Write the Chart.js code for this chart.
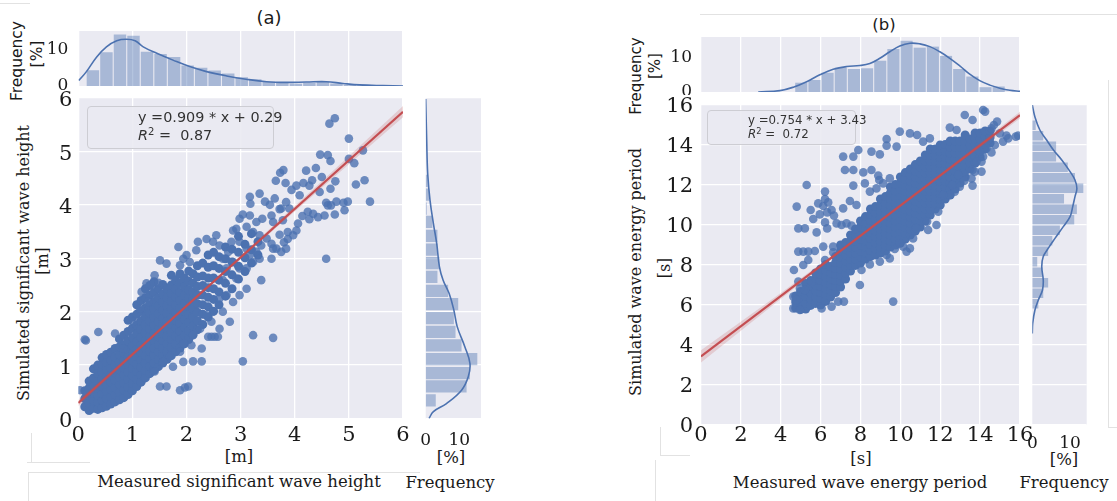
<!DOCTYPE html>
<html>
<head>
<meta charset="utf-8">
<script src="https://cdn.jsdelivr.net/npm/chart.js@4.4.1/dist/chart.umd.min.js"></script>
<style>
  body { margin: 0; width: 1117px; height: 501px; position: relative; overflow: hidden; background: #fff; }
  canvas { position: absolute; }
  .lbl { position: absolute; white-space: nowrap; line-height: 1; color: #1a1a1a; transform: translate(-50%, -50%); }
  .vert { transform: translate(-50%, -50%) rotate(-90deg); }
  .serif { font-family: 'DejaVu Serif', serif; }
  .sans { font-family: 'DejaVu Sans', sans-serif; }
  .fitbox { position: absolute; box-sizing: border-box; border: 1px solid #cdcdd3; border-radius: 4px; white-space: nowrap;
            background: rgba(234, 234, 242, 0.9); font-family: 'DejaVu Sans', sans-serif; color: #333; }
  .fitbox i { font-style: italic; }
  .fitbox sup { font-size: 0.7em; vertical-align: 0.45em; line-height: 0; }
  .rule { position: absolute; background: #e2e2e2; }
</style>
</head>
<body>

<div class="lbl sans" style="left:269px; top:18px; font-size:18px;">(a)</div>
<div class="lbl sans" style="left:884px; top:25px; font-size:16.5px;">(b)</div>

<div class="lbl sans vert" style="left:18px; top:61px; font-size:15.5px;">Frequency</div>
<div class="lbl sans vert" style="left:38px; top:54px; font-size:15.5px;">[%]</div>
<div class="lbl sans vert" style="left:636px; top:76px; font-size:15px;">Frequency</div>
<div class="lbl sans vert" style="left:655px; top:66px; font-size:15px;">[%]</div>

<div class="lbl serif vert" style="left:24px; top:263px; font-size:16px;">Simulated significant wave height</div>
<div class="lbl serif vert" style="left:43px; top:261px; font-size:16px;">[m]</div>
<div class="lbl serif" style="left:239px; top:457px; font-size:16.5px;">[m]</div>
<div class="lbl serif" style="left:239px; top:482px; font-size:16.5px;">Measured significant wave height</div>
<div class="lbl serif" style="left:451px; top:458px; font-size:16.5px;">[%]</div>
<div class="lbl serif" style="left:450px; top:483px; font-size:16.5px;">Frequency</div>

<div class="lbl serif vert" style="left:636px; top:272px; font-size:16px;">Simulated wave energy period</div>
<div class="lbl serif vert" style="left:665px; top:268px; font-size:16px;">[s]</div>
<div class="lbl serif" style="left:861px; top:459px; font-size:16.5px;">[s]</div>
<div class="lbl serif" style="left:860px; top:483px; font-size:16.5px;">Measured wave energy period</div>
<div class="lbl serif" style="left:1064px; top:460px; font-size:16.5px;">[%]</div>
<div class="lbl serif" style="left:1064px; top:483px; font-size:16.5px;">Frequency</div>

<div class="rule" style="left:0; top:3px; width:30px; height:1px;"></div>
<div class="rule" style="left:700px; top:14px; width:417px; height:1px;"></div>
<div class="rule" style="left:31px; top:433px; width:1px; height:29px;"></div>
<div class="rule" style="left:27px; top:462px; width:63px; height:1px;"></div>
<div class="rule" style="left:28px; top:472px; width:392px; height:1px;"></div>
<div class="rule" style="left:28px; top:472px; width:1px; height:29px;"></div>
<div class="rule" style="left:660px; top:427px; width:1px; height:28px;"></div>
<div class="rule" style="left:660px; top:455px; width:30px; height:1px;"></div>
<div class="rule" style="left:655px; top:460px; width:1px; height:41px;"></div>
<div class="rule" style="left:1108px; top:80px; width:1px; height:347px;"></div>
<div class="rule" style="left:1108px; top:427px; width:9px; height:1px;"></div>

<script>
// ---------- panel (a): significant wave height ----------
const hsTicks = [0, 1, 2, 3, 4, 5, 6];
const freqTicks = [0, 10];

// dense core of the cloud, read column by column: [measured, [simulated...]]
const hsCore = [
  [0.12, [0.22, 0.37, 0.52]],
  [0.2, [0.15, 0.29, 0.43, 0.57, 0.7]],
  [0.28, [0.19, 0.33, 0.48, 0.61, 0.76, 0.93]],
  [0.36, [0.17, 0.31, 0.44, 0.57, 0.71, 0.85, 1.0]],
  [0.44, [0.2, 0.34, 0.47, 0.6, 0.74, 0.87, 1.02, 1.14]],
  [0.52, [0.23, 0.37, 0.51, 0.64, 0.78, 0.91, 1.05, 1.2]],
  [0.6, [0.27, 0.41, 0.54, 0.68, 0.81, 0.95, 1.09, 1.24]],
  [0.68, [0.31, 0.45, 0.58, 0.72, 0.86, 1.0, 1.15, 1.31]],
  [0.76, [0.35, 0.49, 0.63, 0.77, 0.91, 1.05, 1.19, 1.34, 1.49]],
  [0.84, [0.39, 0.53, 0.67, 0.81, 0.95, 1.09, 1.23, 1.38, 1.56]],
  [0.92, [0.45, 0.59, 0.73, 0.87, 1.01, 1.15, 1.29, 1.45, 1.63, 1.84]],
  [1.0, [0.52, 0.66, 0.8, 0.94, 1.08, 1.22, 1.36, 1.51, 1.69, 1.9]],
  [1.08, [0.6, 0.74, 0.88, 1.02, 1.16, 1.3, 1.44, 1.59, 1.75, 1.95, 2.13]],
  [1.16, [0.68, 0.82, 0.96, 1.1, 1.24, 1.38, 1.52, 1.67, 1.83, 2.01, 2.21]],
  [1.24, [0.76, 0.9, 1.04, 1.18, 1.32, 1.46, 1.6, 1.75, 1.91, 2.07, 2.26, 2.43]],
  [1.32, [0.84, 0.98, 1.12, 1.26, 1.4, 1.54, 1.68, 1.83, 1.98, 2.13, 2.31, 2.49]],
  [1.4, [0.9, 1.04, 1.18, 1.32, 1.46, 1.6, 1.74, 1.89, 2.04, 2.19, 2.36, 2.56]],
  [1.48, [0.97, 1.11, 1.25, 1.39, 1.53, 1.67, 1.81, 1.96, 2.11, 2.26, 2.43]],
  [1.56, [1.04, 1.18, 1.32, 1.46, 1.6, 1.74, 1.88, 2.03, 2.18, 2.33, 2.51]],
  [1.64, [1.11, 1.25, 1.4, 1.54, 1.68, 1.82, 1.97, 2.11, 2.26, 2.43]],
  [1.72, [1.18, 1.33, 1.48, 1.62, 1.76, 1.9, 2.05, 2.19, 2.34, 2.5, 2.68]],
  [1.8, [1.25, 1.4, 1.55, 1.7, 1.84, 1.98, 2.13, 2.28, 2.43, 2.59]],
  [1.88, [1.32, 1.48, 1.63, 1.78, 1.92, 2.07, 2.21, 2.36, 2.53, 2.71]],
  [1.96, [1.4, 1.56, 1.71, 1.86, 2.01, 2.16, 2.31, 2.47, 2.63]],
  [2.04, [1.48, 1.64, 1.8, 1.95, 2.1, 2.26, 2.41, 2.57, 2.76]],
  [2.12, [1.57, 1.73, 1.89, 2.05, 2.21, 2.37, 2.53, 2.71]],
  [2.2, [1.66, 1.83, 1.99, 2.15, 2.31, 2.47, 2.65, 2.86]],
  [2.3, [1.76, 1.95, 2.13, 2.31, 2.49, 2.67, 2.91]],
  [2.4, [1.9, 2.09, 2.27, 2.45, 2.63, 2.83, 3.06]],
  [2.5, [2.01, 2.23, 2.43, 2.63, 2.86, 3.11]],
  [2.6, [2.13, 2.37, 2.59, 2.81, 3.03]],
  [2.72, [2.29, 2.53, 2.75, 2.99, 3.21]],
  [2.84, [2.43, 2.69, 2.93, 3.17]],
  [2.96, [2.61, 2.85, 3.11, 3.41]],
  [3.08, [2.75, 3.01, 3.26]],
  [3.2, [2.91, 3.16, 3.46]],
  [3.32, [3.06, 3.31]]
];

// scattered points around the core: [measured, simulated]
const hsScatter = [
  [4.74, 5.62], [4.64, 5.52], [5.0, 5.24], [4.47, 4.94], [4.61, 4.93], [4.66, 4.82], [5.0, 4.86], [5.1, 4.78],
  [5.26, 5.02], [5.29, 4.46], [5.13, 4.38], [5.39, 4.06], [4.75, 4.44], [4.66, 4.3], [4.39, 4.69], [4.21, 4.64],
  [4.5, 4.52], [4.32, 4.46], [4.16, 4.41], [4.03, 4.36], [3.73, 4.6], [3.79, 4.65], [3.65, 4.45], [3.83, 4.41],
  [3.94, 4.28], [4.09, 4.18], [4.27, 4.36], [4.46, 4.24], [4.58, 4.04], [4.67, 3.99], [4.77, 4.06], [4.9, 4.04],
  [4.98, 4.06], [4.92, 3.9], [4.74, 3.82], [4.61, 3.99], [4.55, 3.8], [4.43, 3.77], [4.34, 3.83], [4.24, 3.87],
  [4.14, 3.79], [4.27, 3.73], [4.06, 3.65], [4.03, 3.52], [3.87, 3.49], [3.97, 3.43], [3.87, 3.36], [3.8, 3.3],
  [3.72, 3.44], [4.58, 2.99], [3.75, 3.93], [3.9, 3.93], [3.78, 3.71], [3.6, 3.68], [3.57, 3.8], [3.4, 3.74],
  [3.29, 3.68], [3.17, 3.8], [3.04, 3.82], [2.98, 3.74], [3.11, 3.59], [3.17, 4.15], [3.18, 4.02], [3.35, 4.21],
  [3.45, 4.06], [3.54, 4.0], [3.63, 4.12], [3.72, 3.92], [3.84, 4.05], [2.92, 3.55], [2.86, 3.52], [3.23, 3.49],
  [3.35, 3.43], [3.48, 3.37], [3.57, 3.27], [3.66, 3.18], [3.38, 3.24], [3.29, 3.12], [3.17, 3.06], [3.23, 2.93],
  [3.38, 2.59], [3.6, 3.18], [3.75, 3.12], [3.84, 3.18], [3.57, 2.99], [3.35, 2.99], [3.11, 3.18], [2.98, 3.31],
  [2.83, 3.31], [2.77, 3.12], [2.67, 2.99], [2.61, 3.24], [2.55, 3.43], [2.49, 3.31], [2.37, 3.36], [2.21, 3.31],
  [2.18, 3.15], [2.0, 3.06], [1.94, 2.99], [1.85, 3.21], [1.63, 2.9], [1.51, 2.96], [1.88, 2.87], [2.06, 2.93],
  [1.41, 2.68], [1.26, 2.53], [1.35, 2.5], [1.48, 2.54], [1.17, 2.37], [1.29, 2.18], [3.23, 1.56], [3.6, 1.51],
  [3.04, 1.07], [2.4, 1.53], [2.46, 1.53], [2.52, 1.53], [2.58, 1.53], [2.09, 1.37], [1.94, 1.41], [1.88, 1.25],
  [2.12, 1.07], [2.28, 1.07], [1.94, 1.06], [1.69, 1.16], [1.57, 1.06], [1.75, 0.97], [1.41, 0.88], [1.51, 0.6],
  [1.63, 0.6], [1.88, 0.53], [1.97, 0.58], [2.03, 0.6], [0.12, 1.48], [0.14, 1.46], [0.37, 1.62], [0.68, 1.59],
  [2.67, 2.59], [2.74, 2.31], [2.86, 2.18], [2.98, 2.31], [3.11, 2.43], [2.92, 2.62], [2.61, 2.25], [2.49, 2.0],
  [2.37, 1.93], [2.67, 2.0], [2.8, 1.81], [2.61, 1.68], [2.46, 1.81], [2.25, 1.68], [2.12, 1.56], [2.28, 1.31],
  [0.83, 1.31], [1.02, 1.81], [1.14, 2.06], [3.11, 2.81], [2.98, 2.81], [2.86, 2.93], [2.74, 2.81],
  [0.03, 0.53], [0.15, 0.47]
];

// fit y = 0.909 x + 0.29 and its confidence band
const hsFitX = [0, 6];
const hsFitY = [0.29, 5.74];
const hsBandX = [0, 1.5, 3, 4.5, 6];
const hsBandLo = [0.23, 1.63, 2.99, 4.32, 5.64];
const hsBandHi = [0.35, 1.67, 3.05, 4.44, 5.85];

// marginal histogram of measured Hs (top) and its KDE
const hsTopCenters = [0.27, 0.52, 0.77, 1.02, 1.27, 1.52, 1.77, 2.02, 2.27, 2.52, 2.77, 3.02, 3.27, 3.52, 3.77, 4.02, 4.27, 4.52, 4.77, 5.02, 5.27];
const hsTopFreq = [4.4, 9.4, 14.3, 14.0, 9.5, 8.9, 8.1, 5.7, 5.1, 4.3, 3.5, 2.4, 1.9, 1.2, 0.9, 0.6, 0.9, 1.2, 0.7, 0.3, 0.2];
const hsTopKdeX = [0.01, 0.15, 0.34, 0.52, 0.71, 0.89, 1.05, 1.2, 1.45, 1.75, 2.06, 2.37, 2.74, 3.1, 3.48, 3.84, 4.21, 4.58, 4.89, 5.2, 5.63, 6.0];
const hsTopKdeY = [1.5, 4.0, 8.1, 10.9, 12.6, 13.0, 12.6, 10.9, 9.1, 7.2, 5.4, 4.0, 2.8, 1.9, 1.2, 1.0, 1.1, 1.2, 0.7, 0.3, 0.1, 0];

// marginal histogram of simulated Hs (right) and its KDE
const hsRightCenters = [0.34, 0.6, 0.85, 1.11, 1.37, 1.62, 1.88, 2.14, 2.39, 2.65, 2.91, 3.16, 3.42, 3.68, 3.93, 4.19, 4.45];
const hsRightFreq = [3.0, 12.2, 13.2, 15.4, 10.7, 8.9, 8.4, 9.7, 6.7, 3.5, 4.1, 3.5, 3.5, 2.0, 0.3, 1.0, 0.6];
const hsRightKdeY = [5.98, 5.2, 4.58, 4.08, 3.65, 3.27, 2.84, 2.59, 2.34, 2.03, 1.72, 1.34, 1.03, 0.78, 0.53, 0.28, 0.13, 0.0];
const hsRightKdeF = [0, 0.3, 0.6, 1.3, 2.3, 3.3, 4.1, 5.2, 7.0, 8.4, 9.4, 11.7, 13.2, 12.7, 10.7, 6.2, 2.3, 1.0];

// ---------- panel (b): wave energy period ----------
const teTicks = [0, 2, 4, 6, 8, 10, 12, 14, 16];

const teCore = [
  [4.75, [5.85, 6.15, 6.45]],
  [5.0, [5.78, 6.06, 6.36, 6.68]],
  [5.25, [5.8, 6.1, 6.42, 6.76, 7.08]],
  [5.5, [5.98, 6.3, 6.6, 6.92, 7.22]],
  [5.75, [6.08, 6.4, 6.7, 7.0, 7.32, 7.6]],
  [6.0, [6.0, 6.32, 6.62, 6.92, 7.22, 7.52, 7.8]],
  [6.25, [6.18, 6.5, 6.8, 7.1, 7.4, 7.7, 8.02]],
  [6.5, [6.4, 6.7, 7.0, 7.3, 7.6, 7.92]],
  [6.75, [6.62, 6.92, 7.22, 7.52, 7.82, 8.12, 8.42]],
  [7.0, [6.9, 7.2, 7.5, 7.8, 8.1, 8.4, 8.7, 9.0]],
  [7.25, [7.3, 7.6, 7.9, 8.2, 8.5, 8.8, 9.12]],
  [7.5, [7.7, 8.0, 8.3, 8.6, 8.9, 9.2, 9.5]],
  [7.75, [7.98, 8.28, 8.58, 8.88, 9.18, 9.48, 9.8]],
  [8.0, [8.1, 8.4, 8.7, 9.0, 9.3, 9.6, 9.9, 10.2]],
  [8.25, [8.3, 8.6, 8.9, 9.2, 9.5, 9.8, 10.1, 10.42]],
  [8.5, [8.42, 8.72, 9.02, 9.32, 9.62, 9.92, 10.22, 10.52, 10.8]],
  [8.75, [8.5, 8.8, 9.1, 9.4, 9.7, 10.0, 10.3, 10.6, 10.92]],
  [9.0, [8.6, 8.9, 9.2, 9.5, 9.8, 10.1, 10.4, 10.7, 11.0, 11.3]],
  [9.25, [8.7, 9.0, 9.3, 9.6, 9.9, 10.2, 10.5, 10.8, 11.1, 11.42]],
  [9.5, [8.9, 9.2, 9.5, 9.8, 10.1, 10.4, 10.7, 11.0, 11.3, 11.6, 11.9]],
  [9.75, [9.0, 9.3, 9.6, 9.9, 10.2, 10.5, 10.8, 11.1, 11.4, 11.7, 12.02]],
  [10.0, [9.1, 9.4, 9.7, 10.0, 10.3, 10.6, 10.9, 11.2, 11.5, 11.8, 12.1, 12.4]],
  [10.25, [9.3, 9.6, 9.9, 10.2, 10.5, 10.8, 11.1, 11.4, 11.7, 12.0, 12.3, 12.62]],
  [10.5, [9.5, 9.8, 10.1, 10.4, 10.7, 11.0, 11.3, 11.6, 11.9, 12.2, 12.5, 12.8]],
  [10.75, [9.7, 10.0, 10.3, 10.6, 10.9, 11.2, 11.5, 11.8, 12.1, 12.4, 12.7, 13.02]],
  [11.0, [9.9, 10.2, 10.5, 10.8, 11.1, 11.4, 11.7, 12.0, 12.3, 12.6, 12.9, 13.2]],
  [11.25, [10.2, 10.5, 10.8, 11.1, 11.4, 11.7, 12.0, 12.3, 12.6, 12.9, 13.2, 13.5]],
  [11.5, [10.5, 10.8, 11.1, 11.4, 11.7, 12.0, 12.3, 12.6, 12.9, 13.2, 13.5, 13.8]],
  [11.75, [10.8, 11.1, 11.4, 11.7, 12.0, 12.3, 12.6, 12.9, 13.2, 13.5, 13.8]],
  [12.0, [11.0, 11.3, 11.6, 11.9, 12.2, 12.5, 12.8, 13.1, 13.4, 13.7, 14.0]],
  [12.25, [11.3, 11.6, 11.9, 12.2, 12.5, 12.8, 13.1, 13.4, 13.7, 14.02]],
  [12.5, [11.5, 11.8, 12.1, 12.4, 12.7, 13.0, 13.3, 13.6, 13.9, 14.2]],
  [12.75, [11.8, 12.1, 12.4, 12.7, 13.0, 13.3, 13.6, 13.9, 14.2]],
  [13.0, [12.1, 12.4, 12.7, 13.0, 13.3, 13.6, 13.9, 14.2]],
  [13.25, [12.4, 12.7, 13.0, 13.3, 13.6, 13.9, 14.2, 14.5]],
  [13.5, [12.8, 13.1, 13.4, 13.7, 14.0, 14.3]],
  [13.75, [13.1, 13.4, 13.7, 14.0, 14.3, 14.6]],
  [14.0, [13.4, 13.7, 14.0, 14.3, 14.6]],
  [14.25, [13.8, 14.1, 14.4, 14.7]],
  [14.5, [14.1, 14.4, 14.7]]
];

const teScatter = [
  [4.8, 10.92], [5.3, 12.0], [5.5, 10.75], [5.88, 11.08], [6.13, 10.95], [6.38, 11.13], [6.22, 11.3], [6.55, 10.75],
  [5.96, 10.53], [6.33, 10.63], [6.67, 10.47], [6.22, 11.67], [5.63, 10.3], [6.22, 10.13], [5.8, 9.63], [6.33, 9.83],
  [4.88, 9.83], [5.21, 9.83], [6.8, 10.08], [7.05, 10.0], [7.3, 10.08], [7.55, 9.97], [7.13, 10.83], [7.47, 11.2],
  [7.8, 11.0], [7.64, 11.97], [8.22, 12.08], [7.22, 12.75], [7.64, 12.75], [8.14, 12.63], [8.55, 12.75], [8.89, 12.47],
  [8.94, 12.25], [7.13, 13.42], [7.64, 13.42], [7.89, 13.75], [8.55, 13.67], [8.97, 13.53], [9.31, 14.3], [9.31, 13.97],
  [9.81, 13.92], [9.97, 14.67], [10.48, 14.58], [10.84, 14.5], [11.14, 14.17], [11.48, 14.33], [12.48, 14.87], [12.82, 14.75],
  [13.23, 15.5], [13.62, 15.25], [14.15, 15.75], [14.25, 15.67], [14.69, 15.0], [14.85, 15.17], [14.57, 14.83], [15.32, 14.47],
  [15.79, 14.42], [15.91, 14.47], [15.15, 14.17], [14.57, 13.63], [14.15, 13.42], [14.07, 13.17], [13.62, 12.75], [13.57, 12.33],
  [13.62, 11.97], [12.98, 11.92], [12.73, 11.67], [12.48, 11.5], [12.15, 11.5], [11.9, 10.67], [11.81, 10.0], [11.39, 9.75],
  [11.34, 10.17], [10.81, 9.83], [10.64, 9.33], [10.48, 8.83], [10.14, 8.92], [9.72, 8.8], [10.31, 8.67], [9.97, 9.08],
  [9.64, 6.17], [8.47, 8.03], [8.05, 7.75], [7.97, 7.0], [6.88, 6.17], [7.17, 6.17], [6.55, 5.92], [9.31, 8.5],
  [8.97, 8.17], [9.47, 8.33], [4.66, 7.75], [5.13, 8.0], [5.38, 8.25], [4.88, 8.67], [5.13, 8.67], [5.38, 8.67],
  [5.71, 8.7], [6.22, 8.25], [6.63, 8.92], [6.63, 8.63], [6.13, 8.92], [4.63, 6.42], [4.8, 6.25], [4.63, 5.83],
  [4.96, 5.75], [4.96, 6.83], [4.88, 7.17], [5.21, 6.75], [5.55, 7.17], [6.05, 5.83], [14.49, 14.33], [14.74, 14.0],
  [14.99, 14.58], [15.41, 14.33], [14.32, 13.83], [13.98, 13.67], [13.82, 13.17], [14.07, 12.67], [13.73, 12.67], [12.9, 12.5],
  [13.2, 12.2], [12.6, 12.0], [8.47, 11.67], [8.8, 11.83], [9.14, 12.08], [9.47, 12.33]
];

// fit y = 0.754 x + 3.43 and its confidence band
const teFitX = [0, 16];
const teFitY = [3.43, 15.49];
const teBandX = [0, 4, 8, 12, 16];
const teBandLo = [3.12, 6.3, 9.41, 12.4, 15.33];
const teBandHi = [3.74, 6.6, 9.52, 12.56, 15.66];

const teTopCenters = [5.03, 5.69, 6.35, 7.01, 7.67, 8.33, 8.99, 9.65, 10.31, 10.97, 11.63, 12.29, 12.95, 13.61, 14.27, 14.93];
const teTopFreq = [2.7, 3.5, 5.6, 7.1, 6.7, 6.9, 9.1, 12.5, 14.9, 12.9, 13.2, 10.5, 6.7, 4.5, 1.4, 1.6];
const teTopKdeX = [2.87, 3.96, 4.63, 5.3, 5.96, 6.63, 7.3, 7.97, 8.47, 8.97, 9.47, 9.97, 10.48, 10.98, 11.48, 11.98, 12.48, 12.98, 13.48, 13.98, 14.49, 14.99, 15.49, 16.0];
const teTopKdeY = [0, 0.4, 1.4, 3.0, 5.0, 6.6, 7.4, 7.7, 8.3, 9.8, 11.7, 13.4, 14.2, 14.0, 13.2, 11.7, 9.8, 7.6, 5.2, 3.3, 2.0, 1.1, 0.5, 0.2];

const teRightCenters = [6.06, 6.59, 7.11, 7.64, 8.16, 8.69, 9.21, 9.74, 10.26, 10.79, 11.31, 11.84, 12.36, 12.89, 13.41, 13.94, 14.46, 14.99];
const teRightFreq = [1.6, 2.9, 4.2, 2.7, 1.3, 4.2, 5.3, 7.3, 11.1, 11.8, 8.4, 13.5, 11.3, 9.4, 6.3, 6.3, 2.9, 0.9];
const teRightKdeY = [16.0, 15.4, 14.75, 14.25, 13.75, 13.25, 12.67, 12.25, 11.83, 11.42, 10.92, 10.42, 9.92, 9.33, 8.83, 8.42, 7.92, 7.25, 6.75, 6.25, 5.75, 5.08, 4.58];
const teRightKdeF = [0, 0.7, 2.0, 3.8, 5.6, 7.8, 10.0, 11.3, 11.8, 11.3, 10.7, 10.0, 8.2, 6.0, 4.2, 2.9, 2.5, 2.9, 2.7, 1.6, 0.7, 0.1, 0];

// ---------- styling ----------
const BLUE = '#4c72b0';
const DOT = 'rgba(76, 114, 176, 0.8)';
const BAR = 'rgba(76, 114, 176, 0.42)';
const RED = '#c44e52';
const BAND = 'rgba(196, 78, 82, 0.2)';
const GRID = { color: '#ffffff', lineWidth: 1.3, drawTicks: false, offset: false };
const NOBORDER = { display: false };

Chart.defaults.animation = false;
Chart.defaults.responsive = false;
Chart.defaults.devicePixelRatio = 1;
Chart.defaults.font.family = "'DejaVu Serif', serif";
Chart.defaults.color = '#1a1a1a';
Chart.defaults.plugins.legend.display = false;
Chart.defaults.plugins.tooltip.enabled = false;

// seaborn-style grey plot background
const areaBg = {
  id: 'areaBg',
  beforeDraw(chart) {
    const { ctx, chartArea: a } = chart;
    ctx.save();
    ctx.fillStyle = '#eaeaf2';
    ctx.fillRect(a.left, a.top, a.right - a.left, a.bottom - a.top);
    ctx.restore();
  }
};

function makeCanvas(left, top, w, h) {
  const c = document.createElement('canvas');
  c.width = w;
  c.height = h;
  c.style.left = left + 'px';
  c.style.top = top + 'px';
  document.body.appendChild(c);
  return c.getContext('2d');
}

// pin an axis to a fixed thickness so the plot areas line up across canvases
function fixSize(size) {
  return function (scale) {
    if (scale.isHorizontal()) scale.height = size;
    else scale.width = size;
    scale.paddingTop = scale.paddingBottom = scale.paddingLeft = scale.paddingRight = 0;
  };
}

function useTicks(values) {
  return function (scale) {
    scale.ticks = values.map(v => ({ value: v }));
  };
}

const toXY = (xs, ys) => xs.map((x, i) => ({ x: x, y: ys[i] }));
const fromCore = cols => cols.flatMap(([x, ys]) => ys.map(y => ({ x: x, y: y })));
const fromPairs = ps => ps.map(([x, y]) => ({ x: x, y: y }));

function scatterPanel(o) {
  return new Chart(makeCanvas(o.left, o.top, o.w, o.h), {
    type: 'scatter',
    data: {
      datasets: [
        { type: 'line', data: toXY(o.fitX, o.fitY), borderColor: RED, borderWidth: 2.2, pointRadius: 0, order: 0 },
        { type: 'line', data: toXY(o.bandX, o.bandLo), borderWidth: 0, pointRadius: 0, order: 1 },
        { type: 'line', data: toXY(o.bandX, o.bandHi), borderWidth: 0, pointRadius: 0, fill: 1, backgroundColor: BAND, order: 1 },
        { type: 'scatter', data: o.scatter, backgroundColor: DOT, borderWidth: 0, pointRadius: 4.3, order: 2 },
        { type: 'scatter', data: o.core, backgroundColor: BLUE, borderWidth: 0, pointRadius: 4.5, order: 3 }
      ]
    },
    options: {
      layout: { padding: o.pad },
      scales: {
        x: {
          type: 'linear', min: 0, max: o.max, afterFit: fixSize(o.xH), afterBuildTicks: useTicks(o.ticks),
          ticks: { font: { size: 21 }, padding: o.xPad, maxRotation: 0, autoSkip: false },
          grid: GRID, border: NOBORDER
        },
        y: {
          type: 'linear', min: 0, max: o.max, afterFit: fixSize(o.yW), afterBuildTicks: useTicks(o.ticks),
          ticks: { font: { size: 21 }, padding: o.yPad, labelOffset: o.lblOff, autoSkip: false },
          grid: GRID, border: NOBORDER
        }
      }
    },
    plugins: [areaBg]
  });
}

function topHist(o) {
  return new Chart(makeCanvas(o.left, o.top, o.w, o.h), {
    type: 'bar',
    data: {
      datasets: [
        { type: 'line', data: toXY(o.kdeX, o.kdeY), borderColor: BLUE, borderWidth: 1.6, pointRadius: 0, tension: 0.4, order: 0 },
        { type: 'bar', data: toXY(o.centers, o.freq), backgroundColor: BAR, barPercentage: 0.92, categoryPercentage: 1, order: 1 }
      ]
    },
    options: {
      layout: { padding: o.pad },
      scales: {
        x: {
          type: 'linear', min: 0, max: o.max, offset: false, afterFit: fixSize(o.xH), afterBuildTicks: useTicks(o.ticks),
          ticks: { display: false }, grid: GRID, border: NOBORDER
        },
        y: {
          type: 'linear', min: 0, max: o.fmax, afterFit: fixSize(o.yW), afterBuildTicks: useTicks(freqTicks),
          ticks: { font: { size: 17 }, padding: o.yPad }, grid: { display: false }, border: NOBORDER
        }
      }
    },
    plugins: [areaBg]
  });
}

function sideHist(o) {
  return new Chart(makeCanvas(o.left, o.top, o.w, o.h), {
    type: 'bar',
    data: {
      datasets: [
        { type: 'line', data: toXY(o.kdeF, o.kdeY), borderColor: BLUE, borderWidth: 1.6, pointRadius: 0, tension: 0.4, order: 0 },
        { type: 'bar', data: toXY(o.freq, o.centers), backgroundColor: BAR, barPercentage: 0.92, categoryPercentage: 1, order: 1 }
      ]
    },
    options: {
      indexAxis: 'y',
      layout: { padding: o.pad },
      scales: {
        y: {
          type: 'linear', min: 0, max: o.max, offset: false, afterFit: fixSize(o.yW), afterBuildTicks: useTicks(o.ticks),
          ticks: { display: false }, grid: GRID, border: NOBORDER
        },
        x: {
          type: 'linear', min: 0, max: o.fmax, afterFit: fixSize(o.xH), afterBuildTicks: useTicks(freqTicks),
          ticks: { font: { size: 17 }, padding: o.xPad }, grid: { display: false }, border: NOBORDER
        }
      }
    },
    plugins: [areaBg]
  });
}

// panel (a)
scatterPanel({
  left: 0, top: 90, w: 415, h: 360, pad: { left: 0, top: 8, right: 12, bottom: 0 },
  xH: 31.5, yW: 78.3, xPad: 4, yPad: 6, lblOff: 3, max: 6, ticks: hsTicks,
  core: fromCore(hsCore), scatter: fromPairs(hsScatter),
  fitX: hsFitX, fitY: hsFitY, bandX: hsBandX, bandLo: hsBandLo, bandHi: hsBandHi
});
topHist({
  left: 0, top: 25, w: 415, h: 65, pad: { left: 0, top: 6, right: 12, bottom: 0 },
  xH: 4, yW: 78.3, yPad: 2, max: 6, fmax: 15.3, ticks: hsTicks,
  centers: hsTopCenters, freq: hsTopFreq, kdeX: hsTopKdeX, kdeY: hsTopKdeY
});
sideHist({
  left: 410, top: 90, w: 80, h: 360, pad: { left: 0, top: 8, right: 9, bottom: 0 },
  xH: 31.5, yW: 15.7, xPad: 4, max: 6, fmax: 16.5, ticks: hsTicks,
  centers: hsRightCenters, freq: hsRightFreq, kdeY: hsRightKdeY, kdeF: hsRightKdeF
});

// panel (b)
scatterPanel({
  left: 620, top: 95, w: 412, h: 360, pad: { left: 0, top: 10, right: 12, bottom: 0 },
  xH: 30, yW: 81, xPad: -2, yPad: 8, lblOff: 2, max: 16, ticks: teTicks,
  core: fromCore(teCore), scatter: fromPairs(teScatter),
  fitX: teFitX, fitY: teFitY, bandX: teBandX, bandLo: teBandLo, bandHi: teBandHi
});
topHist({
  left: 620, top: 30, w: 412, h: 65, pad: { left: 0, top: 7, right: 12, bottom: 0 },
  xH: 3, yW: 81, yPad: 1, max: 16, fmax: 16, ticks: teTicks,
  centers: teTopCenters, freq: teTopFreq, kdeX: teTopKdeX, kdeY: teTopKdeY
});
sideHist({
  left: 1025, top: 95, w: 72, h: 360, pad: { left: 0, top: 10, right: 10.3, bottom: 0 },
  xH: 30, yW: 7.3, xPad: 0, max: 16, fmax: 14.4, ticks: teTicks,
  centers: teRightCenters, freq: teRightFreq, kdeY: teRightKdeY, kdeF: teRightKdeF
});
</script>

<div class="fitbox" style="left:87px; top:106px; width:187px; height:43px; font-size:14.4px; line-height:18px; padding:1px 0 0 50px;">
  y =0.909 * x + 0.29<br><i>R</i><sup>2</sup> =&nbsp; 0.87
</div>
<div class="fitbox" style="left:707px; top:110px; width:149px; height:35px; font-size:11.8px; line-height:14px; padding:2px 0 0 40px;">
  y =0.754 * x + 3.43<br><i>R</i><sup>2</sup> =&nbsp; 0.72
</div>

</body>
</html>
